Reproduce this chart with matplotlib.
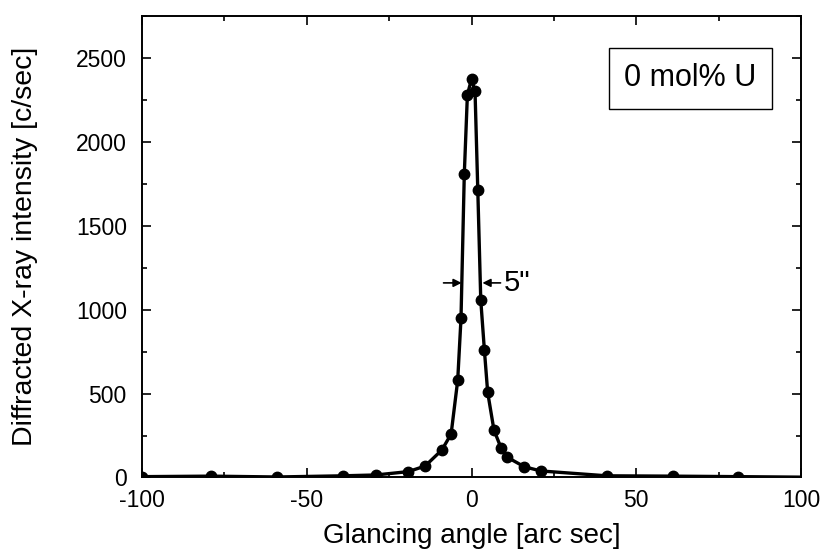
import matplotlib
matplotlib.use("Agg")
import matplotlib.pyplot as plt
from matplotlib.ticker import MultipleLocator

plt.rcParams['font.family'] = ['Liberation Sans', 'DejaVu Sans']
plt.rcParams['axes.unicode_minus'] = False

# glancing angle [arc sec] and intensity [c/sec]
angle = [-100, -79, -59, -39, -29, -19.2, -14.1, -9.0, -6.2, -4.2, -3.2, -2.2,
         -1.26, 0, 1.06, 1.9, 2.8, 3.9, 4.9, 6.8, 9.0, 10.9, 16.0, 21.0,
         41, 61, 81, 100]
intensity = [5, 8, 3, 10, 15, 35, 68, 164, 259, 579, 948, 1808,
             2281, 2376, 2302, 1711, 1057, 759, 507, 283, 174, 120, 64, 39,
             10, 8, 5, 2]
show_marker = [True] * 27 + [False]

fwhm_left = -3.0
fwhm_right = 3.3
half_max = 1160

fig = plt.figure(figsize=(8.21, 5.58), dpi=100)
ax = fig.add_axes([0.173, 0.1443, 0.8027, 0.8267])

ax.plot(angle, intensity, color='black', lw=2.4, zorder=3)
mx = [a for a, s in zip(angle, show_marker) if s]
my = [v for v, s in zip(intensity, show_marker) if s]
ax.plot(mx, my, 'o', color='black', ms=7.5, zorder=4)

ax.set_xlim(-100, 100)
ax.set_ylim(0, 2750)
ax.xaxis.set_major_locator(MultipleLocator(50))
ax.xaxis.set_minor_locator(MultipleLocator(25))
ax.yaxis.set_major_locator(MultipleLocator(500))
ax.yaxis.set_minor_locator(MultipleLocator(250))
ax.tick_params(which='both', direction='in', top=True, right=True, width=1.2,
               labelsize=16.5)
ax.tick_params(axis='x', pad=8)
ax.tick_params(axis='y', pad=11)
ax.tick_params(which='major', length=6.5)
ax.tick_params(which='minor', length=3.6)
for s in ax.spines.values():
    s.set_linewidth(1.4)

ax.set_xlabel('Glancing angle [arc sec]', fontsize=20, labelpad=8)
ax.set_ylabel('Diffracted X-ray intensity [c/sec]', fontsize=20.5, labelpad=27)

# FWHM arrows
ax.annotate('', xy=(fwhm_left, half_max), xytext=(fwhm_left - 5.5, half_max),
            arrowprops=dict(arrowstyle='-|>', color='black', lw=1.2,
                            mutation_scale=12, shrinkA=0, shrinkB=0))
ax.annotate('', xy=(fwhm_right, half_max), xytext=(fwhm_right + 5.5, half_max),
            arrowprops=dict(arrowstyle='-|>', color='black', lw=1.2,
                            mutation_scale=12, shrinkA=0, shrinkB=0))
ax.text(fwhm_right + 6.5, half_max, '5"', fontsize=21, va='center', ha='left')

ax.text(0.832, 0.865, '0 mol% U', transform=ax.transAxes, fontsize=22,
        ha='center', va='center',
        bbox=dict(boxstyle='square,pad=0.5', fc='white', ec='black', lw=1.0))

fig.savefig('out.png', dpi=100)
